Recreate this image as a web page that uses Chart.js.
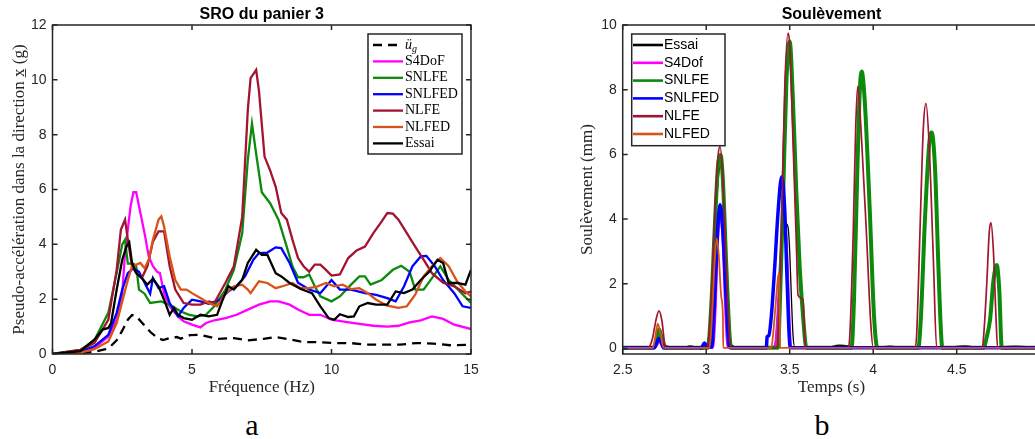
<!DOCTYPE html>
<html><head><meta charset="utf-8">
<script src="https://cdn.jsdelivr.net/npm/chart.js@4.4.0/dist/chart.umd.min.js"></script>
<style>
html,body{margin:0;padding:0;background:#fff;overflow:hidden;width:1035px;height:439px;position:relative;}
#c1{position:absolute;left:0;top:0;}
#c2{position:absolute;left:540px;top:0;}
.cap{position:absolute;font-family:'Liberation Serif';font-size:30px;line-height:30px;color:#000;transform:translateX(-50%);}
</style></head><body>
<canvas id="c1" width="500" height="400"></canvas>
<canvas id="c2" width="520" height="400"></canvas>
<div class="cap" style="left:252px;top:410px">a</div>
<div class="cap" style="left:822px;top:410px">b</div>
<script>
// ---------- Panel a : SRO du panier 3 ----------
const aXTicks = [0, 5, 10, 15];
const aYTicks = [0, 2, 4, 6, 8, 10, 12];

const ugF = [0,1,1.5,1.9,2.1,2.3,2.5,2.7,2.85,3.0,3.2,3.5,3.75,3.96,4.2,4.45,4.6,4.93,5.3,5.9,6.5,7.0,7.56,8.0,8.4,8.87,9.1,9.6,10.07,10.66,11.26,12.45,13.05,13.65,14.25,15];
const ugV = [0,0.03,0.08,0.18,0.3,0.5,0.85,1.25,1.42,1.38,1.15,0.81,0.6,0.51,0.58,0.62,0.56,0.69,0.7,0.55,0.58,0.5,0.55,0.62,0.55,0.46,0.43,0.43,0.4,0.4,0.34,0.34,0.4,0.38,0.32,0.34];

const s4dofF = [0,1,1.5,2.0,2.3,2.5,2.6,2.8,2.9,3.0,3.1,3.3,3.45,3.6,3.75,3.85,4.0,4.2,4.5,4.7,5.0,5.3,5.5,5.8,6.2,6.6,7.0,7.4,7.8,8.1,8.5,8.8,9.2,9.6,10.0,10.5,11,11.5,12,12.4,12.8,13.2,13.6,14.0,14.4,15];
const s4dofV = [0,0.1,0.22,0.64,1.25,2.2,3.7,5.4,5.9,5.9,5.4,4.4,3.56,3.2,3.0,2.95,2.2,1.74,1.37,1.19,1.07,0.97,1.13,1.23,1.31,1.43,1.62,1.8,1.92,1.92,1.8,1.62,1.43,1.43,1.25,1.17,1.1,1.03,1.0,1.03,1.15,1.23,1.37,1.28,1.07,0.91];

const snlfeF = [0,1,1.5,2.0,2.3,2.5,2.6,2.7,2.9,3.0,3.1,3.3,3.5,3.9,4.3,4.6,4.9,5.2,5.5,5.8,6.2,6.5,6.8,7.0,7.15,7.3,7.5,7.8,8.1,8.4,8.6,8.8,9.0,9.2,9.4,9.6,10.0,10.3,10.7,11.0,11.2,11.4,11.8,12.2,12.5,12.8,13.0,13.3,13.6,13.9,14.2,14.6,15];
const snlfeV = [0,0.15,0.5,1.5,2.95,4.0,4.17,3.3,3.3,3.2,2.35,2.2,1.86,1.92,1.74,1.55,1.43,1.37,1.43,1.74,2.35,3.07,4.4,7.08,8.4,7.3,5.9,5.5,4.9,3.9,3.2,2.8,2.8,2.9,2.47,2.1,1.92,2.1,2.53,2.83,2.83,2.53,2.7,3.07,3.22,3.0,2.35,2.35,2.77,3.2,2.7,2.28,1.86];

const snlfedF = [0,1,1.5,2.0,2.3,2.5,2.7,2.9,3.1,3.3,3.5,3.6,3.8,4.0,4.2,4.5,4.7,5.0,5.3,5.6,6.0,6.3,6.6,6.9,7.2,7.4,7.7,8.0,8.2,8.5,8.8,9.2,9.6,10.0,10.3,10.7,11.2,11.6,12.0,12.3,12.6,12.9,13.2,13.4,13.7,14.0,14.4,14.7,15];
const snlfedV = [0,0.1,0.28,0.7,1.5,2.35,2.95,3.13,3.0,2.6,2.2,2.77,2.4,2.47,1.86,1.37,1.68,1.98,1.92,1.83,1.98,2.28,2.49,2.83,3.44,3.68,3.7,3.89,3.86,3.32,2.6,2.35,2.22,2.7,2.35,2.35,2.22,2.16,2.04,1.92,2.47,3.2,3.56,3.58,3.2,2.7,2.22,1.74,1.68];

const nlfeF = [0,1,1.5,2.0,2.3,2.45,2.6,2.7,2.85,3.0,3.2,3.4,3.6,3.8,4.0,4.2,4.4,4.7,5.0,5.3,5.6,5.8,6.2,6.5,6.8,7.0,7.1,7.3,7.4,7.6,7.8,8.0,8.2,8.4,8.6,8.8,9.0,9.2,9.4,9.6,9.8,10.0,10.3,10.6,10.9,11.2,11.5,11.8,12.0,12.2,12.4,12.7,13.0,13.3,13.6,14.0,14.4,14.8,15];
const nlfeV = [0,0.15,0.4,1.25,3.07,4.53,4.9,4.17,3.2,2.95,2.77,3.2,4.1,4.47,4.47,3.2,2.35,1.86,1.8,1.8,1.92,1.86,2.6,3.2,5.0,8.9,10.06,10.36,9.6,7.2,6.7,6.1,5.14,4.9,4.17,3.5,3.2,3.0,3.26,3.26,3.07,2.86,2.9,3.5,3.78,3.92,4.41,4.84,5.14,5.12,4.9,4.41,3.92,3.44,2.95,2.6,2.47,2.22,2.28];

const nlfedF = [0,1,1.5,2.0,2.3,2.5,2.7,2.85,3.0,3.15,3.3,3.45,3.6,3.8,3.9,4.0,4.2,4.4,4.6,4.8,5.0,5.3,5.6,5.9,6.2,6.5,6.8,7.0,7.1,7.4,7.7,8.0,8.3,8.6,8.9,9.2,9.5,9.8,10.1,10.4,10.7,11.0,11.3,11.6,12.0,12.4,12.7,13.0,13.3,13.6,13.9,14.2,14.5,14.8,15];
const nlfedV = [0,0.05,0.18,0.46,1.13,1.92,2.7,3.2,3.26,3.32,3.13,3.44,4.17,4.9,5.02,4.65,3.56,2.7,2.35,2.35,2.22,2.04,1.86,1.74,2.22,2.47,2.53,2.35,2.22,2.65,2.59,2.4,2.49,2.59,2.4,2.4,2.47,2.59,2.47,2.53,2.37,2.4,2.22,1.98,1.76,1.68,1.74,2.16,2.83,3.2,3.5,3.2,2.65,2.28,2.1];

const essaiF = [0,1,1.5,1.8,2.0,2.1,2.3,2.5,2.65,2.75,2.85,3.0,3.2,3.4,3.6,3.8,4.0,4.2,4.35,4.5,4.7,5.0,5.3,5.6,5.9,6.1,6.3,6.5,6.8,7.0,7.3,7.5,7.7,8.0,8.2,8.5,8.9,9.3,9.6,9.9,10.1,10.3,10.6,10.8,11.0,11.3,11.6,12.0,12.3,12.6,12.9,13.2,13.5,13.8,14.0,14.2,14.5,14.8,15];
const essaiV = [0,0.1,0.52,0.89,0.95,1.13,2.35,3.44,3.92,4.07,3.32,2.95,2.77,2.53,2.74,2.47,1.98,1.43,1.68,1.43,1.31,1.25,1.43,1.37,1.43,1.98,2.47,2.35,2.7,3.32,3.8,3.62,3.62,2.95,2.83,2.59,2.37,2.22,1.74,1.31,1.25,1.45,1.35,1.37,1.74,1.86,1.8,1.8,2.28,2.22,2.35,2.7,3.0,3.44,3.32,2.59,2.59,2.53,3.07];

// ---------- Panel b : Soulèvement ----------
const bXTicks = [2.5, 3, 3.5, 4, 4.5, 5];
const bYTicks = [0, 2, 4, 6, 8, 10];

const bEssaiT = [2.5,2.6,2.66,2.69,2.71,2.725,2.74,2.76,2.8,2.88,2.9,2.95,2.98,3.0,3.02,3.04,3.06,3.075,3.085,3.095,3.11,3.125,3.14,3.15,3.17,3.25,3.3,3.35,3.38,3.41,3.43,3.445,3.462,3.475,3.49,3.50,3.51,3.52,3.53,3.6,3.7,3.8,3.9,4.0,4.1,4.2,4.3,4.4,4.55,4.65,4.85,5.0];
const bEssaiY = [0.0,0.02,0.02,0.1,0.45,0.57,0.3,0.08,0.05,0.05,0.08,0.02,-0.03,0.05,0.6,2.2,4.3,5.4,5.62,5.3,3.2,0.8,0.15,0.12,0.05,0.03,0.05,0.05,0.03,0.1,1.2,2.8,3.97,3.88,3.75,3.0,1.6,0.4,0.06,0.05,0.02,0.1,0.05,0.03,0.07,0.02,0.05,0.02,0.08,0.02,0.07,0.02];

const bS4dofT = [2.5,2.69,2.71,2.72,2.735,2.75,3.04,3.055,3.07,3.085,3.10,3.115,3.13,3.41,3.425,3.445,3.468,3.485,3.50,3.51,5.0];
const bS4dofY = [0.02,0.02,0.15,0.22,0.1,0.02,0.02,1.2,3.4,4.13,3.3,1.2,0.02,0.02,0.8,2.8,3.9,2.8,0.6,0.02,0.02];

const bSnlfeT = [2.5,2.68,2.70,2.717,2.735,2.75,3.01,3.03,3.05,3.07,3.086,3.10,3.12,3.14,3.15,3.43,3.44,3.46,3.48,3.50,3.52,3.54,3.56,3.58,3.60,3.87,3.885,3.905,3.92,3.931,3.95,3.98,4.005,4.025,4.27,4.285,4.31,4.335,4.35,4.37,4.39,4.405,4.414,4.66,4.68,4.70,4.72,4.74,4.755,4.77,5.0];
const bSnlfeY = [0.02,0.02,0.2,0.59,0.25,0.02,0.02,1.3,3.6,5.6,5.98,5.2,2.6,0.4,0.02,0.02,1.2,4.6,8.2,9.49,7.6,4.8,2.5,1.0,0.02,0.02,1.5,5.5,8.0,8.56,7.6,4.2,1.0,0.02,0.02,0.9,4.0,6.3,6.68,5.6,2.6,0.6,0.02,0.02,0.36,0.9,2.1,2.58,1.8,0.02,0.02];

const bSnlfedT = [2.5,2.69,2.705,2.717,2.73,2.745,2.97,2.99,3.005,3.033,3.05,3.07,3.083,3.10,3.12,3.138,3.15,3.36,3.365,3.375,3.39,3.41,3.43,3.452,3.47,3.485,3.502,3.51,5.0];
const bSnlfedY = [0.02,0.02,0.2,0.31,0.2,0.02,0.02,0.17,0.05,0.05,1.5,3.8,4.44,3.6,1.5,0.05,0.02,0.02,0.36,0.4,1.0,2.5,4.2,5.31,4.3,2.0,0.05,0.02,0.02];

const bNlfeT = [2.5,2.65,2.66,2.68,2.70,2.717,2.735,2.75,2.76,3.0,3.01,3.03,3.05,3.07,3.083,3.10,3.12,3.14,3.15,3.42,3.43,3.45,3.47,3.49,3.50,3.52,3.54,3.55,3.58,3.59,3.595,3.85,3.86,3.88,3.895,3.907,3.93,3.96,3.985,4.0,4.25,4.26,4.28,4.30,4.316,4.335,4.36,4.38,4.65,4.66,4.68,4.695,4.705,4.72,4.735,4.745,5.0];
const bNlfeY = [0.02,0.02,0.05,0.35,0.9,1.16,0.85,0.2,0.02,0.02,0.1,1.5,4.0,5.9,6.24,5.2,2.5,0.3,0.02,0.02,0.3,3.5,8.0,9.75,9.4,6.4,3.2,1.65,1.5,0.3,0.02,0.02,0.4,3.5,6.8,8.1,6.5,3.5,0.8,0.02,0.02,0.4,3.6,6.8,7.58,6.3,2.8,0.02,0.02,0.3,2.0,3.6,3.89,3.0,1.0,0.02,0.02];

const bNlfedT = [2.5,2.68,2.695,2.71,2.725,2.745,3.02,3.035,3.05,3.063,3.075,3.09,3.10,3.102,3.39,3.40,3.415,3.43,3.438,3.442,5.0];
const bNlfedY = [0.02,0.02,0.35,0.77,0.5,0.02,0.02,1.0,2.6,3.4,2.9,1.6,1.0,0.02,0.02,0.4,1.3,2.2,2.32,0.02,0.02];

const pts = (xs, ys) => xs.map((x, i) => ({x: x, y: ys[i]}));

Chart.defaults.font.family = 'Liberation Sans';
Chart.defaults.color = '#262626';

const boxPlugin = {
  id: 'mbox',
  afterDatasetsDraw(chart, args, o) {
    const {ctx, chartArea: a, scales} = chart;
    ctx.save();
    ctx.strokeStyle = '#262626';
    ctx.lineWidth = 1.5;
    ctx.beginPath();
    scales.x.ticks.forEach(t => {
      const px = scales.x.getPixelForValue(t.value);
      ctx.moveTo(px, a.bottom); ctx.lineTo(px, a.bottom - 5);
      ctx.moveTo(px, a.top); ctx.lineTo(px, a.top + 5);
    });
    scales.y.ticks.forEach(t => {
      const py = scales.y.getPixelForValue(t.value);
      ctx.moveTo(a.left, py); ctx.lineTo(a.left + 5, py);
      ctx.moveTo(a.right, py); ctx.lineTo(a.right - 5, py);
    });
    ctx.stroke();
    ctx.strokeRect(a.left, a.top, a.right - a.left, a.bottom - a.top);
    // legend
    const L = o.legend;
    ctx.fillStyle = '#fff';
    ctx.fillRect(L.x, L.y, L.w, L.h);
    ctx.lineWidth = 1.5;
    ctx.strokeStyle = '#262626';
    ctx.strokeRect(L.x, L.y, L.w, L.h);
    chart.data.datasets.forEach((ds, i) => {
      const cy = L.first + i * L.row;
      ctx.beginPath();
      ctx.strokeStyle = ds.borderColor;
      ctx.lineWidth = L.lw;
      ctx.setLineDash(ds.borderDash || []);
      ctx.moveTo(L.l0, cy); ctx.lineTo(L.l1, cy);
      ctx.stroke();
      ctx.setLineDash([]);
      ctx.fillStyle = '#000';
      ctx.textBaseline = 'middle';
      ctx.textAlign = 'left';
      if (ds.sub) {
        ctx.font = 'italic ' + L.size + 'px ' + L.family;
        ctx.fillText(ds.label, L.tx, cy);
        const w = ctx.measureText(ds.label).width;
        ctx.font = 'italic ' + Math.round(L.size * 0.7) + 'px ' + L.family;
        ctx.fillText(ds.sub, L.tx + w, cy + 4);
      } else {
        ctx.font = L.size + 'px ' + L.family;
        ctx.fillText(ds.label, L.tx, cy);
      }
    });
    ctx.restore();
  }
};

function mk(label, xs, ys, color, width, order, extra) {
  return Object.assign({label, data: pts(xs, ys), borderColor: color, backgroundColor: color,
    borderWidth: width, pointRadius: 0, fill: false, order}, extra || {});
}

function scaleX(min, max, ticksArr, title) {
  return {
    type: 'linear', min, max,
    afterBuildTicks: s => { s.ticks = ticksArr.map(v => ({value: v})); },
    afterFit: s => { s.height = 46; },
    grid: {display: false, drawTicks: false}, border: {display: false},
    ticks: {padding: 8, font: {size: 14}, color: '#262626', autoSkip: false, maxRotation: 0, minRotation: 0, callback: v => String(v)},
    title: {display: true, text: title, font: {family: 'Liberation Serif', size: 17}, color: '#262626', padding: {top: 0, bottom: 1.8}}
  };
}
function scaleY(min, max, ticksArr, title, width, tpad) {
  return {
    type: 'linear', min, max,
    afterBuildTicks: s => { s.ticks = ticksArr.map(v => ({value: v})); },
    afterFit: s => { s.width = width; },
    grid: {display: false, drawTicks: false}, border: {display: false},
    ticks: {padding: 6, font: {size: 14}, color: '#262626', autoSkip: false, callback: v => String(v)},
    title: {display: true, text: title, font: {family: 'Liberation Serif', size: 17}, color: '#262626', padding: {top: tpad, bottom: 0}}
  };
}
function titleOpts(text, size) {
  const lh = size * 1.2;
  const pt = 15 - lh / 2;
  return {display: true, text, fullSize: false, color: '#000', font: {family: 'Liberation Sans', size: size, weight: 'bold', lineHeight: 1.2}, padding: {top: pt, bottom: 25 - pt - lh}};
}

new Chart(document.getElementById('c1'), {
  type: 'line',
  data: {datasets: [
    mk('\u00fc', ugF, ugV, '#000000', 2.3, 7, {borderDash: [9, 6], sub: 'g'}),
    mk('S4DoF', s4dofF, s4dofV, '#ff00ff', 2.3, 6),
    mk('SNLFE', snlfeF, snlfeV, '#0b8a0b', 2.3, 5),
    mk('SNLFED', snlfedF, snlfedV, '#0000ff', 2.3, 4),
    mk('NLFE', nlfeF, nlfeV, '#a2142f', 2.3, 3),
    mk('NLFED', nlfedF, nlfedV, '#d95319', 2.3, 2),
    mk('Essai', essaiF, essaiV, '#000000', 2.3, 1)
  ]},
  options: {
    responsive: false, animation: false, devicePixelRatio: 1, parsing: true,
    layout: {padding: {left: 0, right: 29, top: 0, bottom: 0}},
    elements: {line: {tension: 0}},
    scales: {
      x: scaleX(0, 15, aXTicks, 'Fréquence (Hz)'),
      y: scaleY(0, 12, aYTicks, 'Pseudo-accélération dans la direction x\u0332 (g)', 52.5, 9.8)
    },
    plugins: {
      legend: {display: false}, tooltip: {enabled: false},
      title: titleOpts('SRO du panier 3', 16),
      mbox: {legend: {x: 368, y: 34, w: 94, h: 120, first: 45, row: 16.4, l0: 373, l1: 403, tx: 405, size: 14, lw: 2.3, family: 'Liberation Serif'}}
    }
  },
  plugins: [boxPlugin]
});

new Chart(document.getElementById('c2'), {
  type: 'line',
  data: {datasets: [
    mk('Essai', bEssaiT, bEssaiY, '#000000', 1.3, 6),
    mk('S4Dof', bS4dofT, bS4dofY, '#ff00ff', 2.5, 5),
    mk('SNLFE', bSnlfeT, bSnlfeY, '#0b8a0b', 4, 4),
    mk('SNLFED', bSnlfedT, bSnlfedY, '#0000ff', 3.5, 3),
    mk('NLFE', bNlfeT, bNlfeY, '#a2142f', 1.7, 2),
    mk('NLFED', bNlfedT, bNlfedY, '#d95319', 1.8, 1)
  ]},
  options: {
    responsive: false, animation: false, devicePixelRatio: 1,
    layout: {padding: {left: 0, right: 19.8, top: 0, bottom: 0}},
    elements: {line: {tension: 0.4, cubicInterpolationMode: 'monotone'}},
    scales: {
      x: scaleX(2.5, 5, bXTicks, 'Temps (s)'),
      y: scaleY(-0.17, 10, bYTicks, 'Soulèvement (mm)', 82.7, 37.8)
    },
    plugins: {
      legend: {display: false}, tooltip: {enabled: false},
      title: titleOpts('Soulèvement', 16),
      mbox: {legend: {x: 91.7, y: 34, w: 93.3, h: 111.7, first: 45, row: 17.8, l0: 93, l1: 123, tx: 124, size: 14, lw: 2.6, family: 'Liberation Sans'}}
    }
  },
  plugins: [boxPlugin]
});
</script>
</body></html>
